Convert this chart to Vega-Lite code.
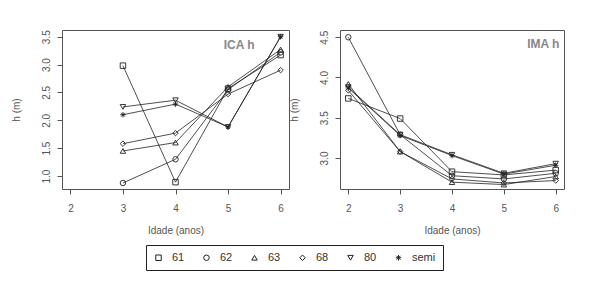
{
  "$schema": "https://vega.github.io/schema/vega-lite/v6.json",
  "background": "white",
  "padding": {"left": 10, "top": 29, "right": 5, "bottom": 5},
  "config": {
    "font": "Liberation Sans",
    "view": {"stroke": "#555", "strokeWidth": 1},
    "axis": {"grid": false, "domain": false, "tickColor": "#555", "tickSize": 5, "labelColor": "#555", "labelFontSize": 10, "titleColor": "#555", "titleFontSize": 10, "titleFontWeight": "normal", "labelFont": "Liberation Sans", "titleFont": "Liberation Sans", "labelOverlap": false},
    "legend": {"orient": "none", "legendX": 84, "legendY": 215, "direction": "horizontal", "strokeColor": "#222", "padding": 7, "title": null, "symbolSize": 30, "symbolStrokeWidth": 1, "symbolStrokeColor": "#222", "labelFontSize": 11, "labelColor": "#333", "labelOffset": 8, "columnPadding": 16, "labelFont": "Liberation Sans"}
  },
  "datasets": {
    "ica": [
      {"idade": 3, "serie": "61", "h": 2.98}, {"idade": 4, "serie": "61", "h": 0.89}, {"idade": 5, "serie": "61", "h": 2.57}, {"idade": 6, "serie": "61", "h": 3.17},
      {"idade": 3, "serie": "62", "h": 0.875}, {"idade": 4, "serie": "62", "h": 1.30}, {"idade": 5, "serie": "62", "h": 2.55}, {"idade": 6, "serie": "62", "h": 3.22},
      {"idade": 3, "serie": "63", "h": 1.45}, {"idade": 4, "serie": "63", "h": 1.60}, {"idade": 5, "serie": "63", "h": 2.60}, {"idade": 6, "serie": "63", "h": 3.27},
      {"idade": 3, "serie": "68", "h": 1.58}, {"idade": 4, "serie": "68", "h": 1.77}, {"idade": 5, "serie": "68", "h": 2.47}, {"idade": 6, "serie": "68", "h": 2.90},
      {"idade": 3, "serie": "80", "h": 2.24}, {"idade": 4, "serie": "80", "h": 2.36}, {"idade": 5, "serie": "80", "h": 1.88}, {"idade": 6, "serie": "80", "h": 3.50},
      {"idade": 3, "serie": "semi", "h": 2.10}, {"idade": 4, "serie": "semi", "h": 2.29}, {"idade": 5, "serie": "semi", "h": 1.88}, {"idade": 6, "serie": "semi", "h": 3.50}
    ],
    "ima": [
      {"idade": 2, "serie": "61", "h": 3.74}, {"idade": 3, "serie": "61", "h": 3.49}, {"idade": 4, "serie": "61", "h": 2.83}, {"idade": 5, "serie": "61", "h": 2.79}, {"idade": 6, "serie": "61", "h": 2.85},
      {"idade": 2, "serie": "62", "h": 4.50}, {"idade": 3, "serie": "62", "h": 3.29}, {"idade": 4, "serie": "62", "h": 2.78}, {"idade": 5, "serie": "62", "h": 2.74}, {"idade": 6, "serie": "62", "h": 2.81},
      {"idade": 2, "serie": "63", "h": 3.92}, {"idade": 3, "serie": "63", "h": 3.08}, {"idade": 4, "serie": "63", "h": 2.70}, {"idade": 5, "serie": "63", "h": 2.67}, {"idade": 6, "serie": "63", "h": 2.77},
      {"idade": 2, "serie": "68", "h": 3.84}, {"idade": 3, "serie": "68", "h": 3.08}, {"idade": 4, "serie": "68", "h": 2.74}, {"idade": 5, "serie": "68", "h": 2.69}, {"idade": 6, "serie": "68", "h": 2.72},
      {"idade": 2, "serie": "80", "h": 3.88}, {"idade": 3, "serie": "80", "h": 3.29}, {"idade": 4, "serie": "80", "h": 3.04}, {"idade": 5, "serie": "80", "h": 2.81}, {"idade": 6, "serie": "80", "h": 2.93},
      {"idade": 2, "serie": "semi", "h": 3.87}, {"idade": 3, "serie": "semi", "h": 3.28}, {"idade": 4, "serie": "semi", "h": 3.03}, {"idade": 5, "serie": "semi", "h": 2.80}, {"idade": 6, "serie": "semi", "h": 2.91}
    ]
  },
  "resolve": {"scale": {"shape": "shared"}, "legend": {"shape": "shared"}},
  "spacing": -2,
  "hconcat": [
    {
      "width": 227,
      "height": 159,
      "layer": [
        {"data": {"name": "ica"}, "mark": {"type": "line", "color": "#222", "strokeWidth": 0.8},
         "encoding": {
           "x": {"field": "idade", "type": "quantitative", "scale": {"domain": [1.84, 6.16], "nice": false, "zero": false}, "axis": {"values": [2, 3, 4, 5, 6], "format": "d", "labelPadding": 9, "titlePadding": 12, "title": "Idade (anos)"}},
           "y": {"field": "h", "type": "quantitative", "scale": {"domain": [0.767, 3.62], "nice": false, "zero": false}, "axis": {"values": [1.0, 1.5, 2.0, 2.5, 3.0, 3.5], "format": ".1f", "labelAngle": 270, "labelAlign": "center", "labelBaseline": "bottom", "labelPadding": 6, "titlePadding": 20, "title": "h (m)"}},
           "detail": {"field": "serie"}}},
        {"data": {"name": "ica"}, "mark": {"type": "point", "filled": false, "color": "#222", "strokeWidth": 0.9, "size": 30, "opacity": 1},
         "encoding": {
           "x": {"field": "idade", "type": "quantitative", "scale": {"domain": [1.84, 6.16], "nice": false, "zero": false}, "axis": {"values": [2, 3, 4, 5, 6], "format": "d", "labelPadding": 9, "titlePadding": 12, "title": "Idade (anos)"}},
           "y": {"field": "h", "type": "quantitative", "scale": {"domain": [0.767, 3.62], "nice": false, "zero": false}, "axis": {"values": [1.0, 1.5, 2.0, 2.5, 3.0, 3.5], "format": ".1f", "labelAngle": 270, "labelAlign": "center", "labelBaseline": "bottom", "labelPadding": 6, "titlePadding": 20, "title": "h (m)"}},
           "shape": {"field": "serie", "type": "nominal", "scale": {"domain": ["61", "62", "63", "68", "80", "semi"], "range": ["square", "circle", "triangle-up", "diamond", "triangle-down", "M-1,0L1,0M0,-1L0,1M-0.7,-0.7L0.7,0.7M-0.7,0.7L0.7,-0.7"]}}}},
        {"data": {"values": [{"rotulo": "ICA h"}]}, "mark": {"type": "text", "font": "Liberation Sans", "fontSize": 12, "fontWeight": "bold", "color": "#888", "align": "center", "baseline": "middle"},
         "encoding": {
           "x": {"datum": 5.21, "type": "quantitative", "scale": {"domain": [1.84, 6.16], "nice": false, "zero": false}, "axis": {"values": [2, 3, 4, 5, 6], "format": "d", "labelPadding": 9, "titlePadding": 12, "title": "Idade (anos)"}},
           "y": {"datum": 3.35, "type": "quantitative", "scale": {"domain": [0.767, 3.62], "nice": false, "zero": false}, "axis": {"values": [1.0, 1.5, 2.0, 2.5, 3.0, 3.5], "format": ".1f", "labelAngle": 270, "labelAlign": "center", "labelBaseline": "bottom", "labelPadding": 6, "titlePadding": 20, "title": "h (m)"}},
           "text": {"field": "rotulo"}}}
      ]
    },
    {
      "width": 224,
      "height": 159,
      "layer": [
        {"data": {"name": "ima"}, "mark": {"type": "line", "color": "#222", "strokeWidth": 0.8},
         "encoding": {
           "x": {"field": "idade", "type": "quantitative", "scale": {"domain": [1.84, 6.16], "nice": false, "zero": false}, "axis": {"values": [2, 3, 4, 5, 6], "format": "d", "labelPadding": 9, "titlePadding": 12, "title": "Idade (anos)"}},
           "y": {"field": "h", "type": "quantitative", "scale": {"domain": [2.615, 4.59], "nice": false, "zero": false}, "axis": {"values": [3.0, 3.5, 4.0, 4.5], "format": ".1f", "labelAngle": 270, "labelAlign": "center", "labelBaseline": "bottom", "labelPadding": 6, "titlePadding": 20, "title": "h (m)"}},
           "detail": {"field": "serie"}}},
        {"data": {"name": "ima"}, "mark": {"type": "point", "filled": false, "color": "#222", "strokeWidth": 0.9, "size": 30, "opacity": 1},
         "encoding": {
           "x": {"field": "idade", "type": "quantitative", "scale": {"domain": [1.84, 6.16], "nice": false, "zero": false}, "axis": {"values": [2, 3, 4, 5, 6], "format": "d", "labelPadding": 9, "titlePadding": 12, "title": "Idade (anos)"}},
           "y": {"field": "h", "type": "quantitative", "scale": {"domain": [2.615, 4.59], "nice": false, "zero": false}, "axis": {"values": [3.0, 3.5, 4.0, 4.5], "format": ".1f", "labelAngle": 270, "labelAlign": "center", "labelBaseline": "bottom", "labelPadding": 6, "titlePadding": 20, "title": "h (m)"}},
           "shape": {"field": "serie", "type": "nominal", "scale": {"domain": ["61", "62", "63", "68", "80", "semi"], "range": ["square", "circle", "triangle-up", "diamond", "triangle-down", "M-1,0L1,0M0,-1L0,1M-0.7,-0.7L0.7,0.7M-0.7,0.7L0.7,-0.7"]}}}},
        {"data": {"values": [{"rotulo": "IMA h"}]}, "mark": {"type": "text", "font": "Liberation Sans", "fontSize": 12, "fontWeight": "bold", "color": "#888", "align": "center", "baseline": "middle"},
         "encoding": {
           "x": {"datum": 5.76, "type": "quantitative", "scale": {"domain": [1.84, 6.16], "nice": false, "zero": false}, "axis": {"values": [2, 3, 4, 5, 6], "format": "d", "labelPadding": 9, "titlePadding": 12, "title": "Idade (anos)"}},
           "y": {"datum": 4.42, "type": "quantitative", "scale": {"domain": [2.615, 4.59], "nice": false, "zero": false}, "axis": {"values": [3.0, 3.5, 4.0, 4.5], "format": ".1f", "labelAngle": 270, "labelAlign": "center", "labelBaseline": "bottom", "labelPadding": 6, "titlePadding": 20, "title": "h (m)"}},
           "text": {"field": "rotulo"}}}
      ]
    }
  ]
}
